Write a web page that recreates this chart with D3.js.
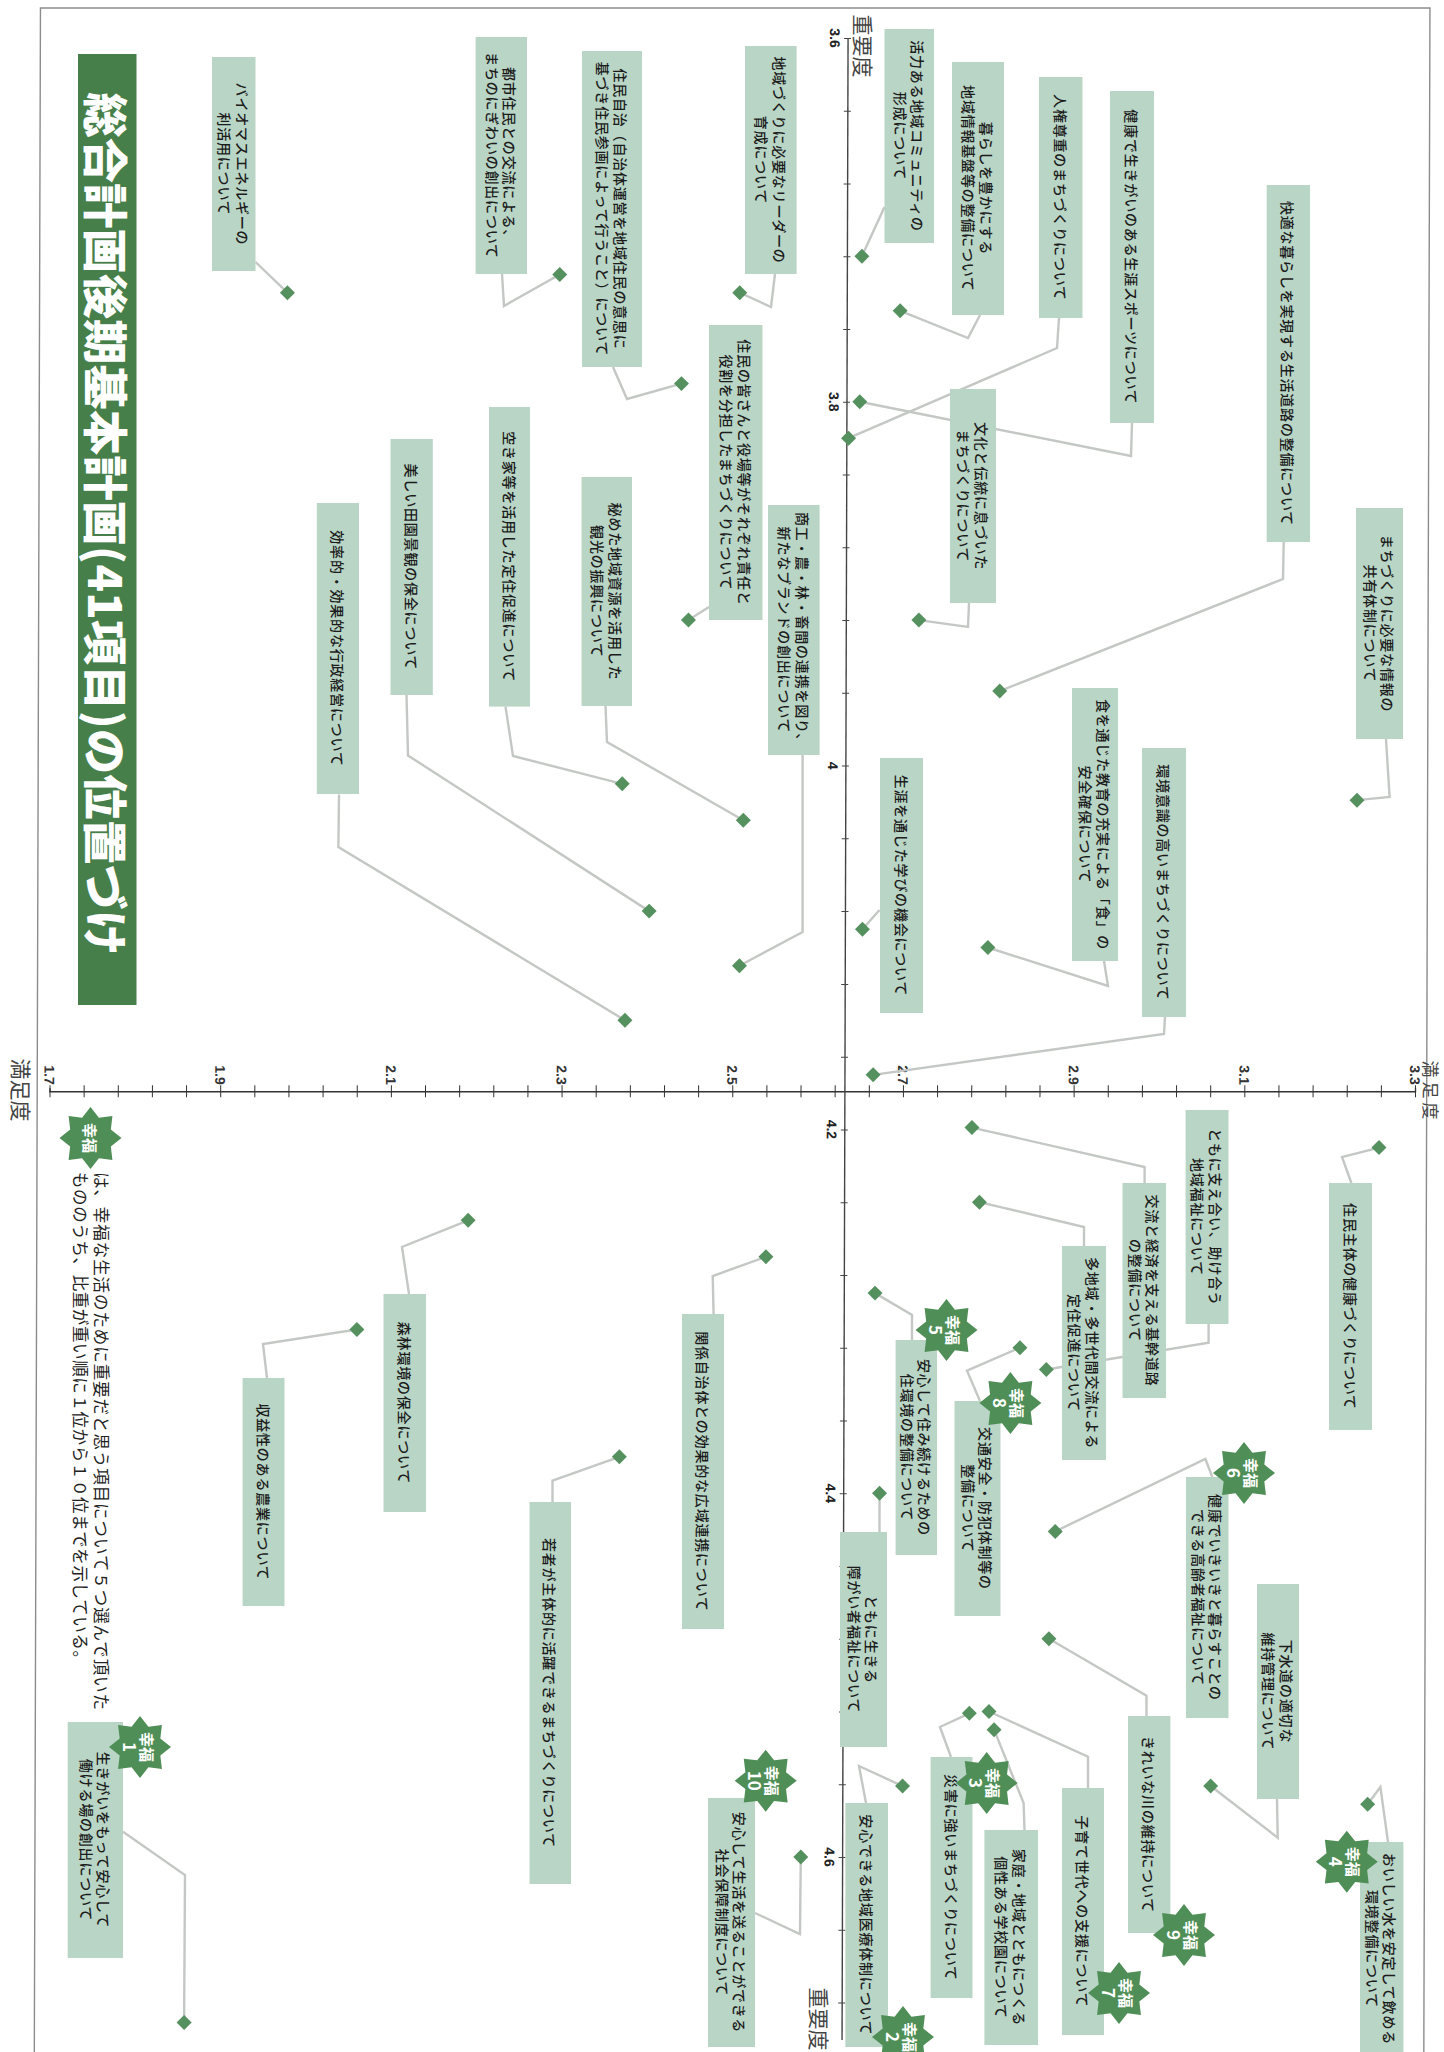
<!DOCTYPE html>
<html>
<head>
<meta charset="utf-8">
<script src="https://cdn.jsdelivr.net/npm/d3@7/dist/d3.min.js"></script>
<style>
html, body { margin: 0; padding: 0; background: #fff; }
text { font-family: "Noto Sans CJK JP", "Noto Sans", sans-serif; }
.num { font-family: "Liberation Sans", Arial, sans-serif; }
</style>
</head>
<body>
<svg id="chart" width="1444" height="2052"></svg>
<script>
// values
var titleText = "総合計画後期基本計画(41項目)の位置づけ";
var axisTitleX = "重要度";
var axisTitleY = "満足度";
var noteLines = ["は、幸福な生活のために重要だと思う項目について５つ選んで頂いた", "もののうち、比重が重い順に１位から１０位までを示している。"];
var starWord = "幸福";

var impTicks = [3.6, 3.8, 4, 4.2, 4.4, 4.6];
var impTickLabels = ["3.6", "3.8", "4", "4.2", "4.4", "4.6"];
var satTicks = [1.7, 1.9, 2.1, 2.3, 2.5, 2.7, 2.9, 3.1, 3.3];

var labels = [
  "バイオマスエネルギーの|利活用について",
  "都市住民との交流による、|まちのにぎわいの創出について",
  "住民自治（自治体運営を地域住民の意思に|基づき住民参画によって行うこと）について",
  "地域づくりに必要なリーダーの|育成について",
  "活力ある地域コミュニティの|形成について",
  "暮らしを豊かにする|地域情報基盤等の整備について",
  "人権尊重のまちづくりについて",
  "健康で生きがいのある生涯スポーツについて",
  "快適な暮らしを実現する生活道路の整備について",
  "文化と伝統に息づいた|まちづくりについて",
  "住民の皆さんと役場等がそれぞれ責任と|役割を分担したまちづくりについて",
  "商工・農・林・畜間の連携を図り、|新たなブランドの創出について",
  "まちづくりに必要な情報の|共有体制について",
  "食を通じた教育の充実による「食」の|安全確保について",
  "環境意識の高いまちづくりについて",
  "生涯を通じた学びの機会について",
  "秘めた地域資源を活用した|観光の振興について",
  "空き家等を活用した定住促進について",
  "美しい田園景観の保全について",
  "効率的・効果的な行政経営について",
  "森林環境の保全について",
  "収益性のある農業について",
  "若者が主体的に活躍できるまちづくりについて",
  "関係自治体との効果的な広域連携について",
  "住民主体の健康づくりについて",
  "ともに支え合い、助け合う|地域福祉について",
  "交流と経済を支える基幹道路|の整備について",
  "多地域・多世代間交流による|定住促進について",
  "安心して住み続けるための|住環境の整備について",
  "交通安全・防犯体制等の|整備について",
  "健康でいきいきと暮らすことの|できる高齢者福祉について",
  "ともに生きる|障がい者福祉について",
  "下水道の適切な|維持管理について",
  "きれいな川の維持について",
  "子育て世代への支援について",
  "家庭・地域とともにつくる|個性ある学校園について",
  "災害に強いまちづくりについて",
  "安心できる地域医療体制について",
  "安心して生活を送ることができる|社会保障制度について",
  "おいしい水を安定して飲める|環境整備について",
  "生きがいをもって安心して|働ける場の創出について"
];
var importance = [3.740, 3.730, 3.790, 3.740, 3.720, 3.750, 3.820, 3.800, 3.959, 3.920, 3.920, 4.110, 4.019, 4.100,
  4.170, 4.090, 4.030, 4.010, 4.080, 4.140, 4.250, 4.310, 4.380, 4.270, 4.210, 4.332, 4.199, 4.240, 4.290, 4.320,
  4.421, 4.400, 4.561, 4.480, 4.520, 4.530, 4.521, 4.561, 4.600, 4.571, 4.691];
var satisfaction = [1.976, 2.295, 2.438, 2.506, 2.649, 2.694, 2.634, 2.647, 2.812, 2.717, 2.447, 2.508, 3.231, 2.799,
  2.665, 2.652, 2.512, 2.370, 2.402, 2.374, 2.191, 2.061, 2.369, 2.540, 3.258, 2.869, 2.781, 2.790, 2.668, 2.838,
  2.880, 2.674, 3.063, 2.873, 2.803, 2.809, 2.780, 2.702, 2.583, 3.247, 1.861];
// happiness rank, 0 = none
var ranks = [0, 0, 0, 0, 0, 0, 0, 0, 0, 0, 0, 0, 0, 0, 0, 0, 0, 0, 0, 0, 0, 0, 0, 0, 0, 0, 0, 0, 5, 8, 6, 0, 0, 9, 7, 0, 3, 2, 10, 4, 1];

// page layout of the callouts: [left, top, right, bottom]
var boxes = [
  [212, 57, 255.5, 271], [475.6, 37, 527, 274], [582, 51, 642, 367], [745, 46, 796.6, 274], [884.5, 29, 934, 243],
  [952, 62, 1004, 315], [1039, 77, 1082.5, 318], [1110, 91, 1154, 423], [1266.7, 185, 1310, 542], [950, 389, 996, 603],
  [709, 325, 762.5, 620], [768, 505, 819.6, 755], [1356, 508, 1403, 739], [1072, 688, 1118, 961], [1142, 748, 1186, 1017],
  [880, 758, 923, 1013], [581.5, 477, 632, 706], [489, 407, 530, 706.6], [390.5, 439, 432.8, 695], [316.8, 503, 359, 794],
  [383.5, 1294, 426, 1512], [242.6, 1378, 284.5, 1606], [529.5, 1502, 571, 1884], [682, 1314, 724, 1629], [1329, 1183, 1372, 1430],
  [1185.6, 1110, 1228.5, 1324], [1122.5, 1183, 1166, 1398], [1062, 1246, 1106, 1460], [895.6, 1340, 937, 1555], [954.5, 1401, 1000.5, 1616],
  [1186, 1477, 1228.5, 1718], [840, 1532, 887, 1747], [1257, 1584, 1299, 1799], [1128, 1716, 1170.4, 1933], [1062, 1788, 1104, 2035],
  [984.4, 1830, 1038, 2045], [930.6, 1757, 972.5, 1998], [845.4, 1803, 888, 2047], [708, 1798, 755, 2047], [1360, 1842, 1403.4, 2056],
  [67.7, 1722, 123, 1958]
];
// leader line from the box, through the elbow if any, on to the point
var leaders = [
  [[255.5, 262]], [[502, 274], [504, 306]], [[613, 367], [627, 399]], [[775, 274], [771, 307]], [[884.5, 207]],
  [[980, 315], [968, 338]], [[1059, 318], [1057, 348]], [[1132, 423], [1131, 456]], [[1283.7, 542], [1283, 579]], [[969, 603], [968, 627]],
  [[709, 607]], [[802.6, 755], [802.6, 932]], [[1386, 739], [1389.6, 797]], [[1104, 961], [1108, 986]], [[1165, 1017], [1164, 1034]],
  [[879.5, 910]], [[605.5, 706], [607, 742]], [[505.5, 706.6], [513, 756]], [[406.5, 695], [408, 755.5]], [[339, 794.4], [338.4, 847]],
  [[409, 1294], [402, 1247]], [[267, 1378], [263, 1344]], [[552.5, 1502], [552.5, 1480.7]], [[713.6, 1314], [712.7, 1276]], [[1351.4, 1183], [1342, 1157]],
  [[1208.6, 1324], [1208.6, 1342.7]], [[1144.6, 1183], [1144.6, 1167]], [[1084, 1246], [1084, 1227]], [[912, 1340], [912, 1315]], [[980, 1401], [967, 1370.7]],
  [[1212.3, 1477], [1205.4, 1459]], [[879.5, 1532]], [[1277, 1799], [1277.7, 1837.7]], [[1146.5, 1716], [1146.5, 1695.7]], [[1088, 1788], [1088, 1756.7]],
  [[1024.5, 1830], [1023.6, 1803]], [[951, 1757], [940, 1727]], [[866, 1803], [859, 1766]], [[755, 1913], [800, 1934]], [[1388, 1842], [1380.4, 1787]],
  [[123, 1831.7], [185, 1875]]
];
// rank -> star centre on the page
var starPlaces = {
  1: [140, 1747], 2: [903, 2037], 3: [986.7, 1783], 4: [1346.8, 1861.7], 5: [946.5, 1330],
  6: [1244, 1473], 7: [1119, 1993], 8: [1010.4, 1403], 9: [1184, 1935], 10: [765.7, 1780.7]
};

var svg = d3.select("#chart");

// the scan leans a little: x drifts 0.003px per px down, measured from the satisfaction axis
var lean = 0.003, leanY = 1092;
var x = d3.scaleLinear().domain([1.7, 3.3]).range([49.5, 1415]);   // satisfaction, across the page
var y = d3.scaleLinear().domain([3.6, 4.6]).range([38, 1857]);     // importance, down the page
var satCross = 2.632, impCross = 4.179;

function pointOf(i) {
  var py = y(importance[i]);
  return [x(satisfaction[i]) - lean * (py - leanY), py];
}

var base = svg.append("g")
    .attr("transform", "matrix(1,0," + (-lean) + ",1," + (lean * leanY) + ",0)");

base.append("rect")
    .attr("x", 37.2).attr("y", 8)
    .attr("width", 1389.5).attr("height", 2100)
    .attr("fill", "none")
    .attr("stroke", "#8c8c8c")
    .attr("stroke-width", 1.4);

// axes
var satAxis = d3.axisTop(x)
    .tickValues(d3.range(0, 41).map(function(k) { return 1.7 + k * 0.04; }))
    .tickSize(3)
    .tickFormat(function() { return ""; });
var satG = base.append("g")
    .attr("transform", "translate(0," + y(impCross) + ")")
    .call(satAxis);
satG.selectAll("line").attr("y1", 6).attr("y2", -6).attr("stroke", "#333");
satG.select(".domain").attr("stroke", "#333").attr("stroke-width", 1.4);

var impAxis = d3.axisLeft(y)
    .tickValues(d3.range(0, 28).map(function(k) { return 3.6 + k * 0.04; }))
    .tickSize(3)
    .tickFormat(function() { return ""; });
var impG = base.append("g")
    .attr("transform", "translate(" + x(satCross) + ",0)")
    .call(impAxis);
impG.selectAll("line").attr("x1", -4).attr("x2", 3).attr("stroke", "#444");
impG.select(".domain").attr("stroke", "#444").attr("stroke-width", 1.4)
    .attr("d", "M0," + y(3.6) + "V" + (y(3.6) + 2002));

base.selectAll(".satlabel")
    .data(satTicks)
  .enter().append("text")
    .attr("class", "satlabel num")
    .attr("transform", function(d) { return "translate(" + x(d) + ",1075) rotate(90)"; })
    .attr("text-anchor", "middle")
    .attr("dominant-baseline", "central")
    .attr("font-size", 14)
    .attr("font-weight", 700)
    .attr("fill", "#333")
    .text(function(d) { return d3.format(".1f")(d); });

base.selectAll(".implabel")
    .data(impTicks)
  .enter().append("text")
    .attr("class", "implabel num")
    .attr("transform", function(d) { return "translate(" + (x(satCross) - 13) + "," + y(d) + ") rotate(90)"; })
    .attr("text-anchor", "middle")
    .attr("dominant-baseline", "central")
    .attr("font-size", 14)
    .attr("font-weight", 700)
    .attr("fill", "#222")
    .text(function(d, i) { return impTickLabels[i]; });

// axis titles (the right one sits against the page edge, so it is a bit smaller)
[[axisTitleX, 863.5, 46, 21, 0], [axisTitleX, 820, 2019, 21, 0], [axisTitleY, 21.5, 1090, 21, 0], [axisTitleY, 1431, 1092, 17, 4]].forEach(function(t) {
  svg.append("text")
      .attr("transform", "translate(" + t[1] + "," + t[2] + ") rotate(90)")
      .attr("text-anchor", "middle")
      .attr("dominant-baseline", "central")
      .attr("font-size", t[3])
      .attr("letter-spacing", t[4])
      .attr("fill", "#444")
      .text(t[0]);
});

// leaders go under the boxes
var lineGen = d3.line();
svg.append("g").selectAll("path")
    .data(leaders)
  .enter().append("path")
    .attr("d", function(d, i) { return lineGen(d.concat([pointOf(i)])); })
    .attr("fill", "none")
    .attr("stroke", "#c3c8c4")
    .attr("stroke-width", 2.4);

svg.append("g").selectAll("path")
    .data(labels)
  .enter().append("path")
    .attr("d", d3.symbol().type(d3.symbolSquare).size(112))
    .attr("transform", function(d, i) {
      var p = pointOf(i);
      return "translate(" + p[0] + "," + p[1] + ") rotate(45)";
    })
    .attr("fill", "#55905f");

// callout boxes
var callout = svg.append("g").selectAll("g")
    .data(labels)
  .enter().append("g");

callout.append("rect")
    .attr("x", function(d, i) { return boxes[i][0]; })
    .attr("y", function(d, i) { return boxes[i][1]; })
    .attr("width", function(d, i) { return boxes[i][2] - boxes[i][0]; })
    .attr("height", function(d, i) { return boxes[i][3] - boxes[i][1]; })
    .attr("fill", "#b9d5c6");

callout.each(function(d, i) {
  var lines = d.split("|");
  var cx = (boxes[i][0] + boxes[i][2]) / 2, cy = (boxes[i][1] + boxes[i][3]) / 2;
  var t = d3.select(this).append("g")
      .attr("transform", "translate(" + cx + "," + cy + ") rotate(90)");
  lines.forEach(function(s, k) {
    t.append("text")
        .attr("y", (k - (lines.length - 1) / 2) * 17.5)
        .attr("text-anchor", "middle")
        .attr("dominant-baseline", "central")
        .attr("font-size", 14)
        .attr("font-weight", 500)
        .attr("letter-spacing", 0.8)
        .attr("fill", "#1c1c1c")
        .text(s);
  });
});

// happiness stars
var starPoints = d3.range(16).map(function(k) {
  return [k * Math.PI / 8, k % 2 ? 22 : 31];
});
var starPath = d3.lineRadial().curve(d3.curveLinearClosed)(starPoints);

function drawStar(cx, cy, rank) {
  var g = svg.append("g").attr("transform", "translate(" + cx + "," + cy + ")");
  g.append("path").attr("d", starPath).attr("fill", "#4f8f57");
  var r = g.append("g").attr("transform", "rotate(90)");
  r.append("text")
      .attr("y", rank ? -7 : 0)
      .attr("text-anchor", "middle")
      .attr("dominant-baseline", "central")
      .attr("font-size", 15)
      .attr("font-weight", 700)
      .attr("fill", "#fff")
      .text(starWord);
  if (rank) {
    r.append("text")
        .attr("y", 10)
        .attr("text-anchor", "middle")
        .attr("dominant-baseline", "central")
        .attr("font-size", 17)
        .attr("font-weight", 700)
        .attr("fill", "#fff")
        .text(rank);
  }
}

ranks.forEach(function(r) {
  if (r) drawStar(starPlaces[r][0], starPlaces[r][1], r);
});

// title bar
svg.append("rect")
    .attr("x", 78).attr("y", 54)
    .attr("width", 58.5).attr("height", 951)
    .attr("fill", "#477f4a");
svg.append("text")
    .attr("transform", "translate(107.5,524) rotate(90)")
    .attr("text-anchor", "middle")
    .attr("dominant-baseline", "central")
    .attr("font-size", 45)
    .attr("font-weight", 900)
    .attr("textLength", 863)
    .attr("lengthAdjust", "spacing")
    .attr("fill", "#fff")
    .text(titleText);

// note under the chart
drawStar(90.5, 1138, 0);
noteLines.forEach(function(s, k) {
  svg.append("text")
      .attr("transform", "translate(" + (k ? 80.5 : 102) + ",1172) rotate(90)")
      .attr("dominant-baseline", "central")
      .attr("font-size", 16.5)
      .attr("textLength", k ? 495 : 538)
      .attr("lengthAdjust", "spacing")
      .attr("fill", "#222")
      .text(s);
});
</script>
</body>
</html>
